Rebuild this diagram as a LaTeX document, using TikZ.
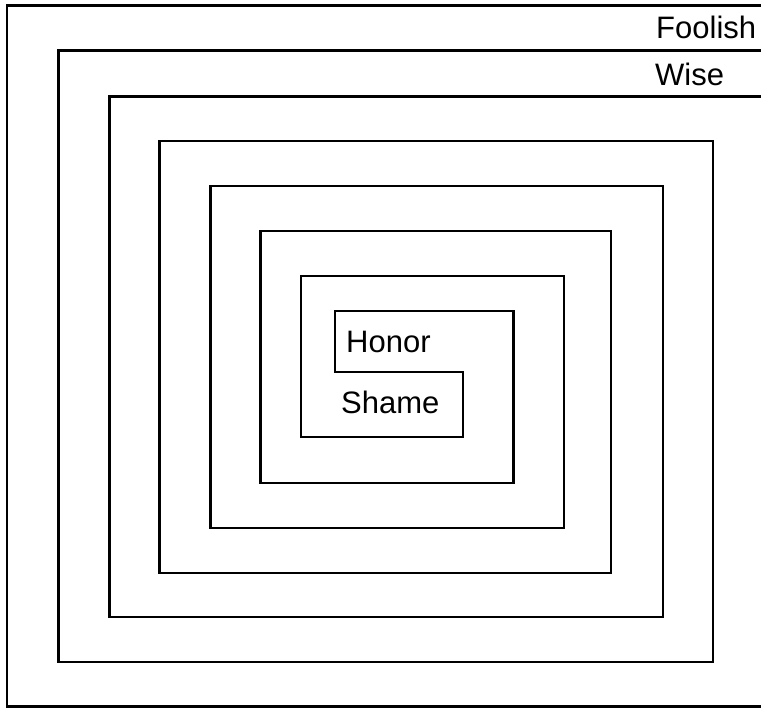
\documentclass[tikz,border=0pt]{standalone}
\usepackage{fontspec}
\setmainfont{Liberation Sans}
\begin{document}
\begin{tikzpicture}[x=1pt,y=-1pt,
  wall/.style={line width=2.2pt,line join=miter,line cap=butt},
  lbl/.style={anchor=base west,inner sep=0pt,font=\fontsize{31}{37}\selectfont}]
\useasboundingbox (0,0) rectangle (761,708);
% outer frame
\draw[wall] (761,5.5) -- (7,5.5) -- (7,706.5) -- (761,706.5);
% double spiral
\draw[wall] (761,50.5) -- (58.5,50.5) -- (58.5,662) -- (713.3,662) -- (713.3,140.7)
  -- (159.5,140.7) -- (159.5,573) -- (611,573) -- (611,231) -- (260.5,231)
  -- (260.5,483) -- (513.5,483) -- (513.5,310.7) -- (335,310.7) -- (335,371.7)
  -- (462.7,371.7) -- (462.7,436.7) -- (300.7,436.7) -- (300.7,275.7)
  -- (564,275.7) -- (564,527.7) -- (210.5,527.7) -- (210.5,185.7)
  -- (663.3,185.7) -- (663.3,617) -- (109.5,617) -- (109.5,96.5) -- (761,96.5);
\node[lbl] (foolish) at (656,38.5) {Foolish};
\node[lbl] (wise) at (655,85.5) {Wise};
\node[lbl] (honor) at (346,352.5) {Honor};
\node[lbl] (shame) at (341,414) {Shame};
\end{tikzpicture}
\end{document}
